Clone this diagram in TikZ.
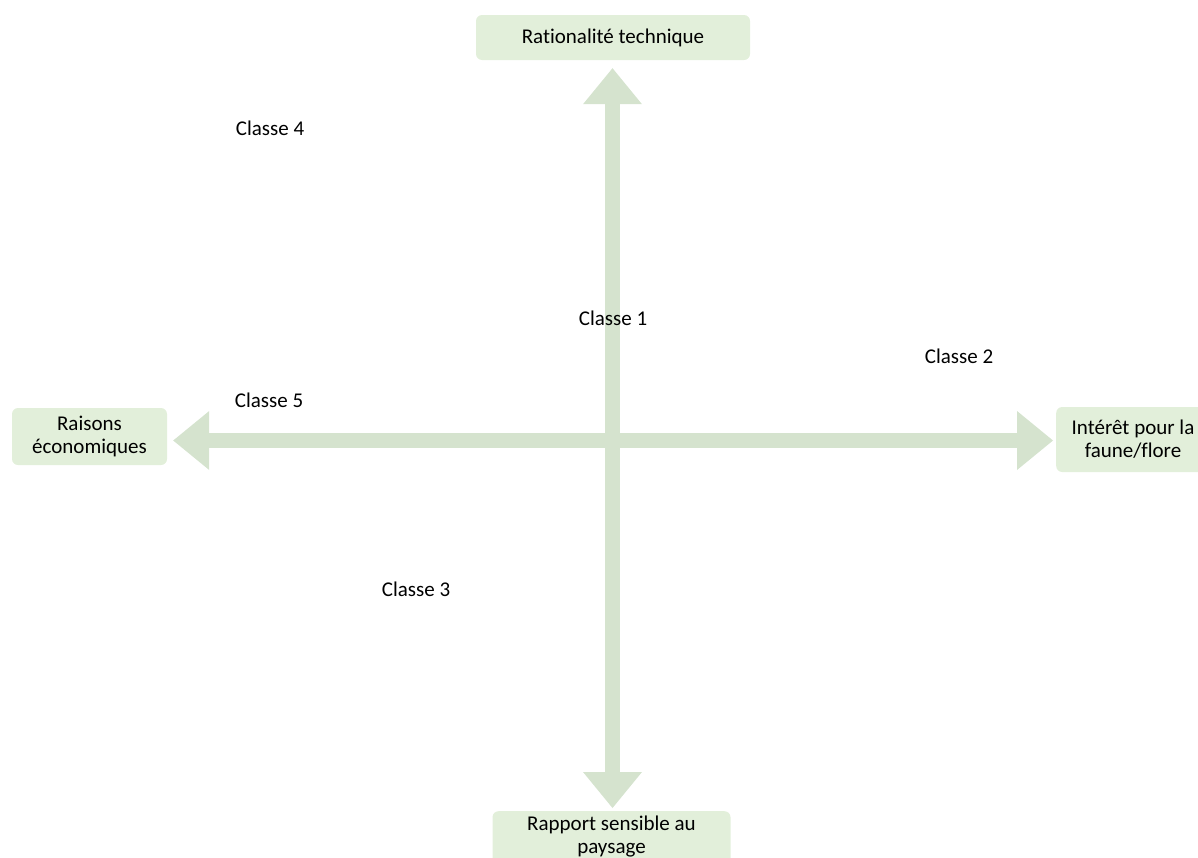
\documentclass[tikz,border=0pt]{standalone}
\usepackage{fontspec}
\setmainfont{Carlito}[Ligatures=NoCommon]
\usetikzlibrary{arrows.meta}
\definecolor{boxc}{HTML}{E2EFDA}
\definecolor{arrowc}{HTML}{D5E3CE}
\begin{document}
\begin{tikzpicture}[x=1pt,y=1pt,
  every node/.style={font=\fontsize{21}{23}\selectfont, text=black},
  box/.style={fill=boxc, rounded corners=6pt, inner sep=0pt, align=center},
  lbl/.style={inner sep=0pt},
  arr/.style={line width=15pt, draw=arrowc,
    {Triangle[width=59pt,length=36pt,line width=0pt]}-{Triangle[width=59pt,length=36pt,line width=0pt]}}
]
\useasboundingbox (0,0) rectangle (1198,-857);
\clip (0,0) rectangle (1198,-857);
% boxes
\node[box, minimum width=274pt, minimum height=45pt] (top) at (613,-37.5) {Rationalité technique};
\node[box, minimum width=155pt, minimum height=57pt] (left) at (89.5,-436.5) {Raisons\\économiques};
\node[box, minimum width=156pt, minimum height=65pt, anchor=west] (right) at (1056,-439.5) {};
\node[align=center, inner sep=0pt] (rtext) at (1133,-439) {Intérêt pour la\\faune/flore};
\node[box, minimum width=238pt, minimum height=60pt, anchor=north] (bottom) at (611.5,-811) {};
\node[align=center, inner sep=0pt] (btext) at (611.5,-836) {Rapport sensible au\\paysage};
% axis reference coordinates
\coordinate (cx) at (612.5,0);
\coordinate (cy) at (0,-440.5);
% arrows
\draw[arr, shorten <=8pt, shorten >=3pt] (top.south -| cx) -- (bottom.north -| cx);
\draw[arr, shorten <=6pt, shorten >=3pt] (left.east |- cy) -- (right.west |- cy);
% labels
\node[lbl] (c4) at (270,-128) {Classe 4};
\node[lbl] (c1) at (613,-318) {Classe 1};
\node[lbl] (c2) at (959,-356) {Classe 2};
\node[lbl] (c5) at (269,-400) {Classe 5};
\node[lbl] (c3) at (416,-589) {Classe 3};
\end{tikzpicture}
\end{document}
